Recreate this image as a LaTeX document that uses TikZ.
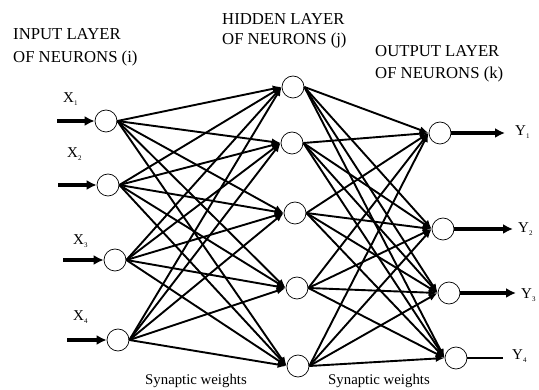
\documentclass[tikz,border=0pt]{standalone}
\usepackage{fontspec}
\setmainfont{Liberation Serif}
\usetikzlibrary{arrows.meta}
\begin{document}
\begin{tikzpicture}[x=1pt,y=-1pt,
  neuron/.style={circle,draw=black,line width=0.7pt,fill=white,minimum size=22pt,inner sep=0pt},
  synapse/.style={line width=1.9pt,-{Latex[length=9pt,width=7pt]}},
  inarrow/.style={line width=3.6pt,-{Latex[length=10pt,width=10pt]}},
  header/.style={anchor=base west,inner sep=0pt,font=\fontsize{16.7}{20}\selectfont},
  lbl/.style={anchor=base west,inner sep=0pt,font=\fontsize{15}{18}\selectfont},
  caption/.style={anchor=base,inner sep=0pt,font=\fontsize{14.8}{18}\selectfont}]
\useasboundingbox (0,0) rectangle (539,390);

% headers
\node[header] (hi1) at (13,40) {INPUT LAYER};
\node[header] (hi2) at (13,63) {OF NEURONS (i)};
\node[header] (hh1) at (222,25) {HIDDEN LAYER};
\node[header] (hh2) at (222,45) {OF NEURONS (j)};
\node[header] (ho1) at (375,57) {OUTPUT LAYER};
\node[header] (ho2) at (375,79) {OF NEURONS (k)};

% neurons
\node[neuron] (I1) at (106,121) {};
\node[neuron] (I2) at (108,185) {};
\node[neuron] (I3) at (115,260) {};
\node[neuron] (I4) at (118,340) {};
\node[neuron] (H1) at (293,87) {};
\node[neuron] (H2) at (292,143) {};
\node[neuron] (H3) at (295,213) {};
\node[neuron] (H4) at (297,288) {};
\node[neuron] (H5) at (298,366) {};
\node[neuron] (O1) at (440,133) {};
\node[neuron] (O2) at (443,229) {};
\node[neuron] (O3) at (449,293) {};
\node[neuron] (O4) at (456,358) {};

% input labels and arrows
\node[lbl] (X1) at (63,103) {X\textsubscript{\scriptsize 1}};
\node[lbl] (X2) at (67,158) {X\textsubscript{\scriptsize 2}};
\node[lbl] (X3) at (73,245) {X\textsubscript{\scriptsize 3}};
\node[lbl] (X4) at (73,321) {X\textsubscript{\scriptsize 4}};
\coordinate (s1) at (57,121);
\coordinate (s2) at (58,185);
\coordinate (s3) at (63,260);
\coordinate (s4) at (67,340);
\draw[inarrow] (s1) -- (I1.west);
\draw[inarrow] (s2) -- (I2.west);
\draw[inarrow] (s3) -- (I3.west);
\draw[inarrow] (s4) -- (I4.west);

% synapses input -> hidden
\foreach \i in {1,...,4}{
  \foreach \j in {1,...,5}{
    \draw[synapse] (I\i.east) -- (H\j.west);
  }
}
% synapses hidden -> output
\foreach \j in {1,...,5}{
  \foreach \k in {1,...,4}{
    \draw[synapse] (H\j.east) -- (O\k.west);
  }
}

% outputs
\coordinate (e1) at (505,133);
\coordinate (e2) at (513,229);
\coordinate (e3) at (516,293);
\coordinate (e4) at (503,358);
\draw[inarrow] (O1.east) -- (e1);
\draw[inarrow] (O2.east) -- (e2);
\draw[inarrow] (O3.east) -- (e3);
\draw[line width=1.6pt] (O4.east) -- (e4);
\node[lbl] (Y1) at (515,136) {Y\textsubscript{\scriptsize 1}};
\node[lbl] (Y2) at (518,233) {Y\textsubscript{\scriptsize 2}};
\node[lbl] (Y3) at (521,299) {Y\textsubscript{\scriptsize 3}};
\node[lbl] (Y4) at (512,360) {Y\textsubscript{\scriptsize 4}};

% captions
\node[caption] (c1) at (196,385) {Synaptic weights};
\node[caption] (c2) at (379,385) {Synaptic weights};
\end{tikzpicture}
\end{document}
